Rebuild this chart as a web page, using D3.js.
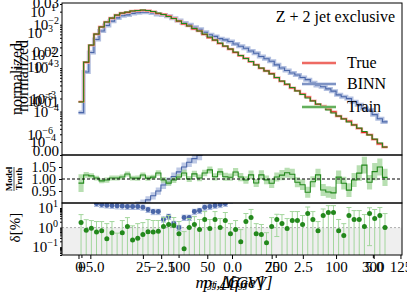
<!DOCTYPE html>
<html>
<head>
<meta charset="utf-8">
<script src="https://cdn.jsdelivr.net/npm/d3@7"></script>
<style>
body { margin: 0; background: #fff; }
text { font-family: "Liberation Serif", "DejaVu Serif", serif; }
</style>
</head>
<body>
<svg id="chart" width="407" height="299"></svg>
<script>
// bins (same binning for every series)
var binEdges = d3.range(0, 121, 2);

// main panel, normalized distributions
var trueVals = [1.689e-4,1.361e-3,3.366e-3,6.086e-3,8.931e-3,1.159e-2,1.421e-2,1.667e-2,1.846e-2,1.922e-2,
  2.061e-2,2.116e-2,2.145e-2,2.116e-2,1.999e-2,1.816e-2,1.726e-2,1.573e-2,1.396e-2,1.207e-2,
  1.041e-2,9.34e-3,8.01e-3,7.14e-3,5.96e-3,5.02e-3,4.41e-3,3.68e-3,3.20e-3,2.74e-3,
  2.287e-3,1.939e-3,1.675e-3,1.398e-3,1.201e-3,9.91e-4,8.63e-4,7.46e-4,6.04e-4,4.98e-4,
  4.20e-4,3.51e-4,3.02e-4,2.53e-4,2.17e-4,1.77e-4,1.469e-4,1.335e-4,1.149e-4,9.84e-5,
  7.85e-5,6.86e-5,6.03e-5,4.93e-5,4.09e-5,3.29e-5,2.93e-5,2.27e-5,1.80e-5,1.52e-5];
var trainVals = [1.66e-4,1.384e-3,3.41e-3,6.11e-3,8.86e-3,1.154e-2,1.427e-2,1.674e-2,1.861e-2,1.962e-2,
  2.069e-2,2.124e-2,2.181e-2,2.124e-2,2.015e-2,1.861e-2,1.719e-2,1.546e-2,1.390e-2,1.217e-2,
  1.067e-2,9.34e-3,8.18e-3,7.17e-3,6.11e-3,5.21e-3,4.45e-3,3.79e-3,3.23e-3,2.76e-3,
  2.353e-3,1.955e-3,1.668e-3,1.422e-3,1.181e-3,1.008e-3,8.60e-4,7.33e-4,6.09e-4,5.06e-4,
  4.31e-4,3.58e-4,2.98e-4,2.47e-4,2.05e-4,1.75e-4,1.494e-4,1.274e-4,1.087e-4,9.27e-5,
  7.91e-5,6.74e-5,5.75e-5,4.91e-5,4.19e-5,3.48e-5,2.89e-5,2.34e-5,1.89e-5,1.53e-5];
var binnVals = [9.46e-5,8.17e-4,2.29e-3,4.56e-3,7.14e-3,9.62e-3,1.208e-2,1.434e-2,1.606e-2,1.682e-2,
  1.824e-2,1.890e-2,1.931e-2,1.932e-2,1.859e-2,1.725e-2,1.683e-2,1.557e-2,1.410e-2,1.243e-2,
  1.093e-2,9.99e-3,8.69e-3,7.85e-3,6.73e-3,5.87e-3,5.38e-3,4.78e-3,4.48e-3,4.11e-3,
  3.61e-3,3.20e-3,2.88e-3,2.49e-3,2.20e-3,1.853e-3,1.640e-3,1.440e-3,1.190e-3,1.006e-3,
  8.82e-4,7.72e-4,6.95e-4,6.07e-4,5.43e-4,4.60e-4,3.97e-4,3.74e-4,3.33e-4,2.95e-4,
  2.43e-4,2.20e-4,1.99e-4,1.68e-4,1.43e-4,1.18e-4,1.08e-4,8.5e-5,6.84e-5,5.78e-5];

// relative uncertainties (ratio bands)
var trainUnc = [0.038,0.012,0.011,0.010,0.010,0.011,0.010,0.010,0.011,0.010,
  0.010,0.011,0.010,0.011,0.010,0.011,0.012,0.011,0.012,0.012,
  0.013,0.012,0.013,0.014,0.013,0.014,0.015,0.014,0.016,0.015,
  0.016,0.017,0.016,0.018,0.017,0.019,0.018,0.020,0.019,0.021,
  0.020,0.022,0.021,0.023,0.024,0.023,0.025,0.026,0.025,0.027,
  0.028,0.027,0.030,0.029,0.032,0.033,0.031,0.035,0.034,0.036];
var binnUnc = [0.03,0.02,0.018,0.016,0.015,0.015,0.015,0.015,0.015,0.015,
  0.015,0.015,0.016,0.016,0.016,0.016,0.017,0.017,0.017,0.018,
  0.018,0.018,0.019,0.019,0.02,0.02,0.02,0.021,0.021,0.022,
  0.022,0.022,0.023,0.023,0.024,0.024,0.025,0.025,0.026,0.026,
  0.027,0.027,0.028,0.028,0.029,0.029,0.03,0.03,0.031,0.031,
  0.032,0.032,0.033,0.033,0.034,0.034,0.035,0.035,0.036,0.036];

// delta panel [%]
var deltaTrain = [1.80,0.74,0.94,0.59,0.70,0.27,0.55,0.02,0.55,1.13,
  0.23,0.29,0.44,0.62,0.60,0.65,1.13,1.43,1.27,0.49,
  0.084,1.0,1.43,0.79,2.57,0.89,2.57,1.0,2.29,0.49,
  0.79,0.19,2.03,3.26,0.49,0.44,0.17,1.13,2.57,1.60,
  0.89,2.29,2.29,1.43,5.22,2.57,0.70,4.12,5.88,5.88,
  0.70,0.39,4.12,2.57,2.57,1.13,5.22,2.89,4.12,1.0];
var deltaTrainErr = [2.8,1.8,1.35,1.45,1.33,1.33,1.48,0.5,1.74,2.1,
  1.0,1.3,1.36,1.95,1.7,1.65,2.1,2.7,2.0,1.55,
  0.54,1.9,2.2,1.8,4.0,1.7,4.0,1.9,3.6,1.1,
  1.5,0.6,3.2,5.2,1.1,1.0,0.38,2.1,2.22,3.0,
  2.0,4.3,4.3,2.7,6.0,4.0,1.33,4.8,7.3,7.3,
  1.9,1.2,6.5,4.8,4.8,3.5,5.1,5.5,6.5,4.2];
var deltaBinn = [60,40,30,17,15,14,13.5,13,12.5,12,
  12,12,11,8.4,6.6,6.6,2.7,3.7,1.6,1.0,
  3.3,3.3,6.6,7.4,11,12,13.5,15,17,25,
  30,35,40,45,50,55,60,65,70,75,
  80,90,100,110,120,130,140,150,160,170,
  180,190,200,210,220,230,240,250,260,270];
var deltaBinnErr = [18,12,9,5,4.5,4,4,4,3.8,3.6,
  3.6,3.6,3.3,2.5,2,2,0.8,1.1,0.5,0.3,
  1,1,2,2.2,3.3,3.6,4,4.5,5,7.5,
  9,10,12,13,15,16,18,19,21,22,
  24,27,30,33,36,39,42,45,48,51,
  54,57,60,63,66,69,72,75,78,81];

// tick labels of the stacked x axes
var xTicksA = [0, 25, 50, 75, 100, 125];
var xTicksB = [-5.0, -2.5, 0.0, 2.5, 5.0];
var xTicksC = [0, 100, 200, 300];
var xLabels = ["m\u2c7c\u2c7c [GeV]", "\u0394\u03b7\u2c7c\u2c7c", "p\u209c,\u2c7c [GeV]"];

var W = 407, H = 299;
var left = 62, right = 402;
var mainTop = 3, mainBot = 155, ratTop = 155, ratBot = 203, delTop = 203, delBot = 255;

var cRed = "#e8241c", cBlue = "#4a66a8", cBlueBand = "#b3c0e0",
    cGreen = "#23881c", cGreenBand = "#a6d79f";

var svg = d3.select("#chart");

var x = d3.scaleLinear().domain([-6.4, 125.6]).range([left, right]);
var yMain = d3.scaleLog().domain([1e-5, Math.pow(10, -1.5)]).range([mainBot, mainTop]);
var yRat = d3.scaleLinear().domain([0.9, 1.1]).range([ratBot, ratTop]);
var yDel = d3.scaleLog().domain([0.04, 18]).range([delBot, delTop]);

var defs = svg.append("defs");
[["clipMain", mainTop, mainBot], ["clipRat", ratTop, ratBot], ["clipDel", delTop, delBot]].forEach(function(c) {
  defs.append("clipPath").attr("id", c[0]).append("rect")
    .attr("x", left).attr("y", c[1]).attr("width", right - left).attr("height", c[2] - c[1]);
});

function stepPts(vals) {
  var pts = vals.map(function(v, i) { return [binEdges[i], v]; });
  pts.push([binEdges[vals.length], vals[vals.length - 1]]);
  return pts;
}

/////////////////////MAIN
var gMain = svg.append("g").attr("clip-path", "url(#clipMain)");
var lineMain = d3.line().curve(d3.curveStepAfter).x(d => x(d[0])).y(d => yMain(d[1]));

gMain.append("path").attr("d", lineMain(stepPts(binnVals)))
  .attr("fill", "none").attr("stroke", cBlueBand).attr("stroke-width", 4);
gMain.append("path").attr("d", lineMain(stepPts(binnVals)))
  .attr("fill", "none").attr("stroke", cBlue).attr("stroke-width", 1.1);
gMain.append("path").attr("d", lineMain(stepPts(trueVals)))
  .attr("fill", "none").attr("stroke", "#f4b0ab").attr("stroke-width", 2.6);
gMain.append("path").attr("d", lineMain(stepPts(trueVals)))
  .attr("fill", "none").attr("stroke", cRed).attr("stroke-width", 1.1);
gMain.append("path").attr("d", lineMain(stepPts(trainVals)))
  .attr("fill", "none").attr("stroke", cGreen).attr("stroke-width", 1.1);

/////////////////////RATIO
var trainRatio = trainVals.map((v, i) => v / trueVals[i]);
var binnRatio = binnVals.map((v, i) => v / trueVals[i]);
var gRat = svg.append("g").attr("clip-path", "url(#clipRat)");
var lineRat = d3.line().curve(d3.curveStepAfter).x(d => x(d[0])).y(d => yRat(d[1]));
var areaRat = d3.area().curve(d3.curveStepAfter).x(d => x(d[0])).y0(d => yRat(d[1])).y1(d => yRat(d[2]));

function bandPts(r, u) {
  var pts = r.map((v, i) => [binEdges[i], v * (1 - u[i]), v * (1 + u[i])]);
  var n = r.length - 1;
  pts.push([binEdges[r.length], r[n] * (1 - u[n]), r[n] * (1 + u[n])]);
  return pts;
}

gRat.append("path").attr("d", areaRat(bandPts(binnRatio, binnUnc))).attr("fill", cBlueBand).attr("opacity", 0.85);
gRat.append("path").attr("d", lineRat(stepPts(binnRatio))).attr("fill", "none").attr("stroke", cBlue).attr("stroke-width", 1.1);
gRat.append("path").attr("d", areaRat(bandPts(trainRatio, trainUnc))).attr("fill", cGreenBand).attr("opacity", 0.8);
gRat.append("path").attr("d", lineRat(stepPts(trainRatio))).attr("fill", "none").attr("stroke", cGreen).attr("stroke-width", 1.1);
gRat.append("line").attr("x1", left).attr("x2", right).attr("y1", yRat(1)).attr("y2", yRat(1))
  .attr("stroke", "#000").attr("stroke-width", 1).attr("stroke-dasharray", "3,2");

/////////////////////DELTA
var gDel = svg.append("g").attr("clip-path", "url(#clipDel)");
gDel.append("rect").attr("x", left).attr("width", right - left)
  .attr("y", yDel(1)).attr("height", delBot - yDel(1)).attr("fill", "#efefef");
gDel.append("line").attr("x1", left).attr("x2", right).attr("y1", yDel(1)).attr("y2", yDel(1))
  .attr("stroke", "#999").attr("stroke-width", 0.8).attr("stroke-dasharray", "2,2");

function centers(i) { return x((binEdges[i] + binEdges[i + 1]) / 2); }

function drawPoints(vals, errs, col, barCol) {
  var g = gDel.append("g");
  vals.forEach(function(v, i) {
    var cx = centers(i);
    var hi = yDel(v + errs[i]);
    var lo = v - errs[i] > 0 ? yDel(v - errs[i]) : delBot + 5;
    g.append("line").attr("x1", cx).attr("x2", cx).attr("y1", hi).attr("y2", lo)
      .attr("stroke", barCol).attr("stroke-width", 1);
    g.append("line").attr("x1", cx - 2.5).attr("x2", cx + 2.5).attr("y1", hi).attr("y2", hi)
      .attr("stroke", barCol).attr("stroke-width", 1);
    if (v - errs[i] > 0) {
      g.append("line").attr("x1", cx - 2.5).attr("x2", cx + 2.5).attr("y1", lo).attr("y2", lo)
        .attr("stroke", barCol).attr("stroke-width", 1);
    }
    g.append("circle").attr("cx", cx).attr("cy", yDel(v)).attr("r", 2.5).attr("fill", col);
  });
}
drawPoints(deltaBinn, deltaBinnErr, cBlue, "#a7b7dc");
drawPoints(deltaTrain, deltaTrainErr, cGreen, "#a3d69d");

/////////////////////FRAMES + AXES
[[mainTop, mainBot], [ratTop, ratBot], [delTop, delBot]].forEach(function(p) {
  svg.append("rect").attr("x", left).attr("y", p[0]).attr("width", right - left).attr("height", p[1] - p[0])
    .attr("fill", "none").attr("stroke", "#000").attr("stroke-width", 1);
});

function styleAxis(g, fs) {
  g.select(".domain").remove();
  g.selectAll("text").style("font-family", "Liberation Serif").style("font-size", fs + "px").attr("fill", "#000");
}

function powLabel(xp, yp, k, fs) {
  var t = svg.append("text").attr("x", xp).attr("y", yp + 5)
    .attr("text-anchor", "end").style("font-size", fs + "px");
  t.append("tspan").text("10");
  t.append("tspan").attr("dy", -6).style("font-size", (fs - 5) + "px").text(k < 0 ? "\u2212" + (-k) : String(k));
}

// main y: several overlaid log axes (the figure stacks them)
var gYm = svg.append("g").attr("transform", "translate(" + left + ",0)")
  .call(d3.axisLeft(yMain).tickValues(yMain.ticks()).tickSize(2).tickFormat(""));
styleAxis(gYm, 14);
var yMainB = d3.scaleLog().domain([Math.pow(10, -4.3), Math.pow(10, -0.8)]).range([mainBot, mainTop]);
var yMainC = d3.scaleLog().domain([Math.pow(10, -6.6), Math.pow(10, -2.1)]).range([mainBot, mainTop]);
var yMainLin = d3.scaleLinear().domain([0, 0.03]).range([mainBot - 4, mainTop]);
[-2, -3, -4].forEach(k => powLabel(left - 3, yMain(Math.pow(10, k)), k, 15));
[-1, -2, -3, -4].forEach(k => powLabel(left - 6, yMainB(Math.pow(10, k)), k, 15));
[-3, -4, -5, -6].forEach(k => powLabel(left - 9, yMainC(Math.pow(10, k)), k, 15));
[0, 0.01, 0.02, 0.03].forEach(function(v) {
  svg.append("text").attr("x", left - 3).attr("y", yMainLin(v) + 5).attr("text-anchor", "end")
    .style("font-size", "15px").text(d3.format(".2f")(v));
});

// ratio y
var gYr = svg.append("g").attr("transform", "translate(" + left + ",0)")
  .call(d3.axisLeft(yRat).tickValues([0.95, 1.0, 1.05]).tickSize(3).tickFormat(d3.format(".2f")));
styleAxis(gYr, 14);

// delta y
var gYd = svg.append("g").attr("transform", "translate(" + left + ",0)")
  .call(d3.axisLeft(yDel).tickValues(yDel.ticks()).tickSize(2).tickFormat(""));
styleAxis(gYd, 14);
[1, 0, -1].forEach(k => powLabel(left - 4, yDel(Math.pow(10, k)), k, 15));

// x axes, overlaid
var xB = d3.scaleLinear().domain([-6, 6]).range([left, right]);
var xC = d3.scaleLinear().domain([-20, 330]).range([left, right]);
var gX = svg.append("g").attr("transform", "translate(0," + delBot + ")")
  .call(d3.axisBottom(x).tickValues(xTicksA).tickSize(4).tickPadding(2).tickFormat(d3.format("d")));
styleAxis(gX, 15);
var gXB = svg.append("g").attr("transform", "translate(0," + delBot + ")")
  .call(d3.axisBottom(xB).tickValues(xTicksB).tickSize(4).tickPadding(2).tickFormat(d3.format(".1f")));
styleAxis(gXB, 15);
var gXC = svg.append("g").attr("transform", "translate(0," + delBot + ")")
  .call(d3.axisBottom(xC).tickValues(xTicksC).tickSize(3).tickPadding(3).tickFormat(d3.format("d")));
styleAxis(gXC, 15);

/////////////////////LABELS
xLabels.forEach(function(s, i) {
  svg.append("text").attr("x", 230 + i * 4).attr("y", 288).attr("text-anchor", "middle")
    .style("font-size", "17px").style("font-style", "italic").text(s);
});

svg.append("text").attr("transform", "translate(22," + ((mainTop + mainBot) / 2) + ") rotate(-90)")
  .attr("text-anchor", "middle").style("font-size", "16px").text("normalized");
svg.append("text").attr("transform", "translate(28," + ((mainTop + mainBot) / 2 - 3) + ") rotate(-90)")
  .attr("text-anchor", "middle").style("font-size", "16px").text("normalized");

var gFrac = svg.append("g").attr("transform", "translate(14," + yRat(1) + ") rotate(-90)");
gFrac.append("text").attr("y", -2).attr("text-anchor", "middle").style("font-size", "9px").style("font-weight", "bold").text("Model");
gFrac.append("line").attr("x1", -12).attr("x2", 12).attr("y1", 0).attr("y2", 0).attr("stroke", "#000").attr("stroke-width", 0.7);
gFrac.append("text").attr("y", 8).attr("text-anchor", "middle").style("font-size", "9px").style("font-weight", "bold").text("Truth");

svg.append("text").attr("transform", "translate(20," + yDel(1) + ") rotate(-90)")
  .attr("text-anchor", "middle").style("font-size", "15px").text("\u03b4[%]");

svg.append("text").attr("x", 395).attr("y", 22).attr("text-anchor", "end")
  .style("font-size", "16px").text("Z + 2 jet exclusive");

var legend = [["True", cRed, 63, "#f4b0ab"], ["BINN", cBlue, 84, cBlueBand], ["Train", cGreen, 107, cGreenBand]];
legend.forEach(function(l) {
  svg.append("line").attr("x1", 302).attr("x2", 336).attr("y1", l[2]).attr("y2", l[2])
    .attr("stroke", l[3]).attr("stroke-width", 3);
  svg.append("line").attr("x1", 302).attr("x2", 336).attr("y1", l[2]).attr("y2", l[2])
    .attr("stroke", l[1]).attr("stroke-width", 1.1);
  svg.append("text").attr("x", 347).attr("y", l[2] + 5).style("font-size", "16px").text(l[0]);
});
</script>
</body>
</html>
